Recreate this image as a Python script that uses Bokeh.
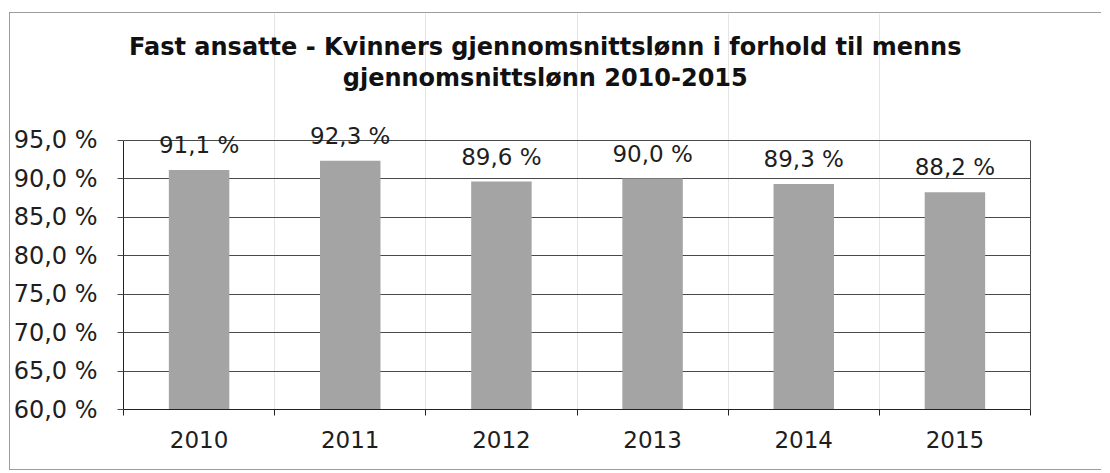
from bokeh.plotting import figure
from bokeh.models import (Range1d, LinearAxis, FixedTicker, ColumnDataSource, Grid)
from bokeh.core.properties import value
from bokeh.embed import file_html
from bokeh.resources import INLINE

# ---- data ----
years = ["2010", "2011", "2012", "2013", "2014", "2015"]
shares = [91.1, 92.3, 89.6, 90.0, 89.3, 88.2]
y_ticks = [60, 65, 70, 75, 80, 85, 90, 95]
title_lines = ["Fast ansatte - Kvinners gjennomsnittslønn i forhold til menns",
               "gjennomsnittslønn 2010-2015"]


def pct(v):
    return f"{v:.1f} %".replace(".", ",")


FONT = "DejaVu Sans"
TXT = "#1e1e1e"
LINE = "#4a4a4a"
BAR = "#a4a4a4"

n = len(years)
centers = [i + 0.5 for i in range(n)]
bounds_x = list(range(n + 1))

p = figure(width=1092, height=458,
           x_range=Range1d(0, n), y_range=Range1d(60, 111.43),
           output_backend="svg", toolbar_location=None,
           x_axis_location=None, y_axis_location=None,
           min_border_left=108, min_border_right=72,
           min_border_top=0, min_border_bottom=62,
           outline_line_color=None, background_fill_color="white",
           border_fill_color="white")
p.margin = (12, 0, 0, 9)
p.styles = {"border-top": "1px solid #9c9c9c",
            "border-left": "1px solid #9c9c9c",
            "border-bottom": "1px solid #9c9c9c"}

# horizontal gridlines
p.add_layout(Grid(dimension=1, ticker=FixedTicker(ticks=y_ticks),
                  grid_line_color=LINE, grid_line_width=1))

# left axis
yax = LinearAxis(ticker=FixedTicker(ticks=y_ticks), bounds=(60, 95),
                 major_label_overrides={t: pct(t) for t in y_ticks},
                 major_label_text_font=FONT, major_label_text_font_size="24px",
                 major_label_text_color=TXT, major_label_standoff=20,
                 major_tick_out=6, major_tick_in=0,
                 major_tick_line_color=LINE, axis_line_color="#222222",
                 minor_tick_line_color=None)
p.add_layout(yax, "left")

# right border of plot area
rax = LinearAxis(ticker=FixedTicker(ticks=[]), bounds=(60, 95),
                 axis_line_color=LINE, major_label_text_font_size="0px",
                 major_tick_line_color=None, minor_tick_line_color=None)
p.add_layout(rax, "right")

# bottom axis: labels at category centres, tick marks at boundaries
xax = LinearAxis(ticker=FixedTicker(ticks=centers, minor_ticks=bounds_x),
                 major_label_overrides={c: y for c, y in zip(centers, years)},
                 major_tick_line_color=None,
                 minor_tick_out=6, minor_tick_in=0,
                 minor_tick_line_color="#222222", axis_line_color="#222222",
                 major_label_text_font=FONT, major_label_text_font_size="23px",
                 major_label_text_color=TXT, major_label_standoff=15)
p.add_layout(xax, "below")

src = ColumnDataSource(dict(x=centers, share=shares,
                            label=[pct(v) for v in shares]))
p.vbar(x="x", top="share", bottom=60, width=0.4, source=src,
       fill_color=BAR, line_color=None)
p.text(x="x", y="share", text="label", source=src, y_offset=-25,
       text_align="center", text_baseline="alphabetic",
       text_font=value(FONT), text_font_size="23px", text_color=TXT)

# title (two lines)
p.text(x=[2.79, 2.79], y=[106.1, 101.95], text=title_lines, y_offset=-8,
       text_align="center", text_baseline="alphabetic",
       text_font=value(FONT), text_font_style="bold", text_font_size="24px",
       text_color="#111111")

open("out.html", "w").write(file_html(p, INLINE))
